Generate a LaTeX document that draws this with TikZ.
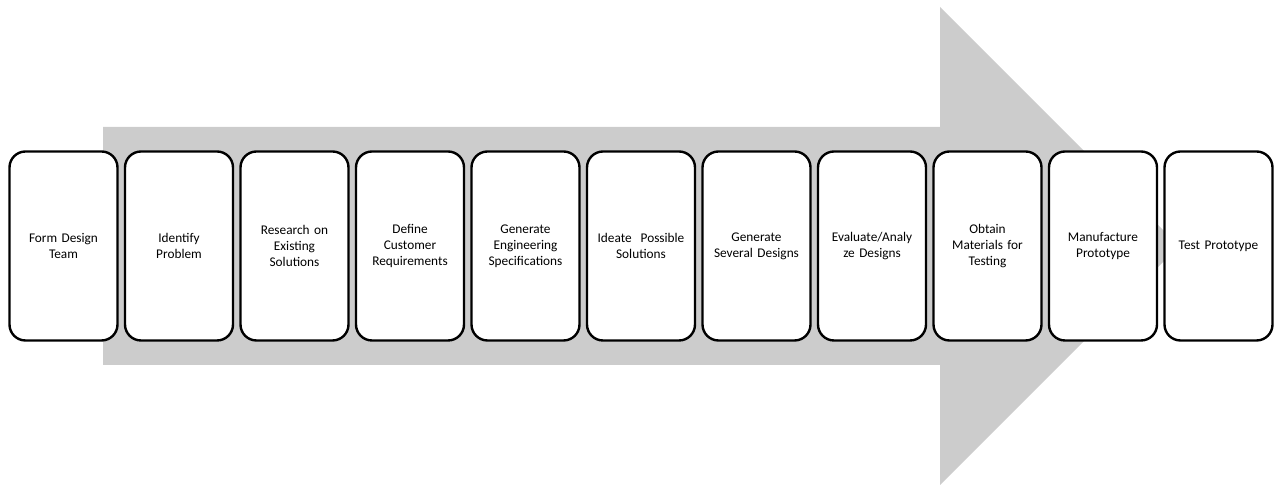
\documentclass[tikz,border=0pt]{standalone}
\usepackage{fontspec}
\setmainfont{Carlito}
\begin{document}
\begin{tikzpicture}[x=1pt,y=1pt,
  stepbox/.style={draw=black, line width=2.4pt, fill=white, rounded corners=16pt,
    minimum width=108pt, minimum height=189pt, inner sep=0pt,
    align=center, text width=104pt,
    font=\fontsize{13.3pt}{16pt}\selectfont}]
\useasboundingbox (0,0) rectangle (1275,486);
% big gray arrow (y measured upwards: y = 486 - pixel row)
\fill[black!20] (103,359) -- (940,359) -- (940,479) -- (1179,240) -- (940,1)
  -- (940,121) -- (103,121) -- cycle;
\foreach \i/\t in {0/{Form Design\\Team},
  1/{Identify\\Problem},
  2/{Research on\\Existing\\Solutions},
  3/{Define\\Customer\\Requirements},
  4/{Generate\\Engineering\\Specifications},
  5/{Ideate~~Possible\\Solutions},
  6/{Generate\\Several Designs},
  7/{Evaluate/Analy\\ze Designs},
  8/{Obtain\\Materials for\\Testing},
  9/{Manufacture\\Prototype},
  10/{Test Prototype}}{
  \node[stepbox] (b\i) at ({63.5+\i*115.5},240) {\t};
}
\end{tikzpicture}
\end{document}
